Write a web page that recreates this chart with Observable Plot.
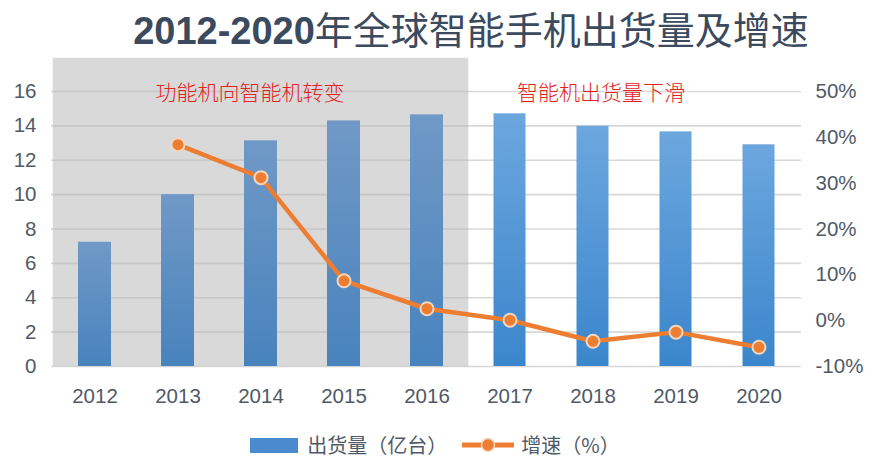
<!DOCTYPE html>
<html>
<head>
<meta charset="utf-8">
<script src="https://cdn.jsdelivr.net/npm/d3@7"></script>
<script src="https://cdn.jsdelivr.net/npm/@observablehq/plot@0.6"></script>
<style>
  body { margin: 0; background: #fff; width: 882px; height: 470px; overflow: hidden; }
  #title { box-sizing: border-box; width: 882px; height: 56px; line-height: 56px; padding-left: 60px; text-align: center; color: #3b4a5e; white-space: nowrap; }
  #title .num { font-family: "Liberation Sans", Arial, sans-serif; font-weight: bold; font-size: 38px; line-height: 56px; }
  #title .cjk { font-family: "Noto Sans CJK SC", sans-serif; font-weight: 400; font-size: 38px; line-height: 56px; }
  #legend { display: flex; align-items: center; justify-content: center; margin-top: 17px; padding-right: 12px; font-family: "Noto Sans CJK SC", sans-serif; font-size: 20px; line-height: 24px; color: #505a66; height: 24px; }
  #legend .sw { width: 48px; height: 15px; background: #4a8bd0; margin-right: 9px; }
  #legend .gap { width: 14px; }
</style>
</head>
<body>
<div id="title"><span class="num">2012-2020</span><span class="cjk">年全球智能手机出货量及增速</span></div>
<div id="chart"></div>
<div id="legend">
  <div class="sw"></div><span>出货量（亿台）</span><div class="gap"></div>
  <svg width="54" height="16" style="margin-right:6px"><line x1="1" y1="8" x2="53" y2="8" stroke="#ed7d31" stroke-width="5"/><circle cx="27" cy="8" r="6.5" fill="#ed7d31" stroke="#f3d6c0" stroke-width="1.5"/></svg><span>增速（%）</span>
</div>
<script>
// ---- data ----
const years = ["2012", "2013", "2014", "2015", "2016", "2017", "2018", "2019", "2020"];
const shipments = [7.23, 10.0, 13.13, 14.29, 14.64, 14.7, 13.98, 13.65, 12.9]; // 亿台
const growth = [null, 38.4, 31.2, 8.7, 2.6, 0.1, -4.5, -2.5, -5.8];            // %
const leftTicks = [0, 2, 4, 6, 8, 10, 12, 14, 16];
const rightTicks = [-10, 0, 10, 20, 30, 40, 50];
const phaseOneYears = ["2012", "2013", "2014", "2015", "2016"];
const annoText = ["功能机向智能机转变", "智能机出货量下滑"];
const annoYear = ["2014", "2018"];

// right axis maps -10..50 % onto left 0..16
const leftMax = 16, rMin = -10, rMax = 50;
const conv = p => (p - rMin) * leftMax / (rMax - rMin);
const yTop = 17.92; // top of shaded panel (above 16)

const rows = years.map((y, i) => ({year: y, value: shipments[i], g: growth[i], phase1: phaseOneYears.includes(y)}));
const lineRows = rows.filter(d => d.g != null);

const defs = () => {
  const d = d3.create("svg:defs");
  const mk = (id, top, bottom) => {
    const g = d.append("linearGradient").attr("id", id).attr("x1", 0).attr("y1", 0).attr("x2", 0).attr("y2", 1);
    g.append("stop").attr("offset", "0%").attr("stop-color", top);
    g.append("stop").attr("offset", "100%").attr("stop-color", bottom);
  };
  mk("gL", "#7099c6", "#4883bd");
  mk("gR", "#6ca7de", "#3b86cc");
  return d.node();
};

const annoStyle = {fill: "#e3221d", fontSize: 21, dy: 2, fontFamily: "'Noto Sans CJK SC', sans-serif", fontWeight: 300};

const chart = Plot.plot({
  width: 882,
  height: 360,
  marginTop: 2,
  marginBottom: 50,
  marginLeft: 51,
  marginRight: 81,
  style: {fontFamily: "'Liberation Sans', Arial, sans-serif", fontSize: "20.5px", color: "#505a66", background: "transparent", overflow: "visible"},
  x: {domain: years, padding: 0, label: null},
  y: {domain: [0, yTop], label: null},
  marks: [
    defs,
    Plot.barY(phaseOneYears, {x: d => d, y1: 0, y2: yTop, fill: "#d9d9d9", stroke: "#d9d9d9", strokeWidth: 0.6}),
    Plot.ruleY(leftTicks, {stroke: "#b8b8b8", strokeOpacity: 0.55, strokeWidth: 1.6}),
    Plot.barY(rows.filter(d => d.phase1), {x: "year", y: "value", fill: "url(#gL)", insetLeft: 25, insetRight: 25}),
    Plot.barY(rows.filter(d => !d.phase1), {x: "year", y: "value", fill: "url(#gR)", insetLeft: 25.5, insetRight: 25.5}),
    Plot.line(lineRows, {x: "year", y: d => conv(d.g), stroke: "#ed7d31", strokeWidth: 4.5, strokeLinejoin: "round"}),
    Plot.dot(lineRows, {x: "year", y: d => conv(d.g), r: 6.5, fill: "#ed7d31", stroke: "#f3d6c0", strokeWidth: 2}),
    Plot.text([annoText[0]], {x: () => annoYear[0], y: () => leftMax, text: d => d, dx: -11, ...annoStyle}),
    Plot.text([annoText[1]], {x: () => annoYear[1], y: () => leftMax, text: d => d, dx: 8, ...annoStyle}),
    Plot.axisX({tickSize: 0, tickPadding: 22, label: null}),
    Plot.axisY({anchor: "left", ticks: leftTicks, tickSize: 0, tickPadding: 15, label: null}),
    Plot.axisY({anchor: "right", ticks: rightTicks.map(conv), tickFormat: d => Math.round(d * (rMax - rMin) / leftMax + rMin) + "%", tickSize: 0, tickPadding: 14, label: null})
  ]
});
document.getElementById("chart").appendChild(chart);
</script>
</body>
</html>
